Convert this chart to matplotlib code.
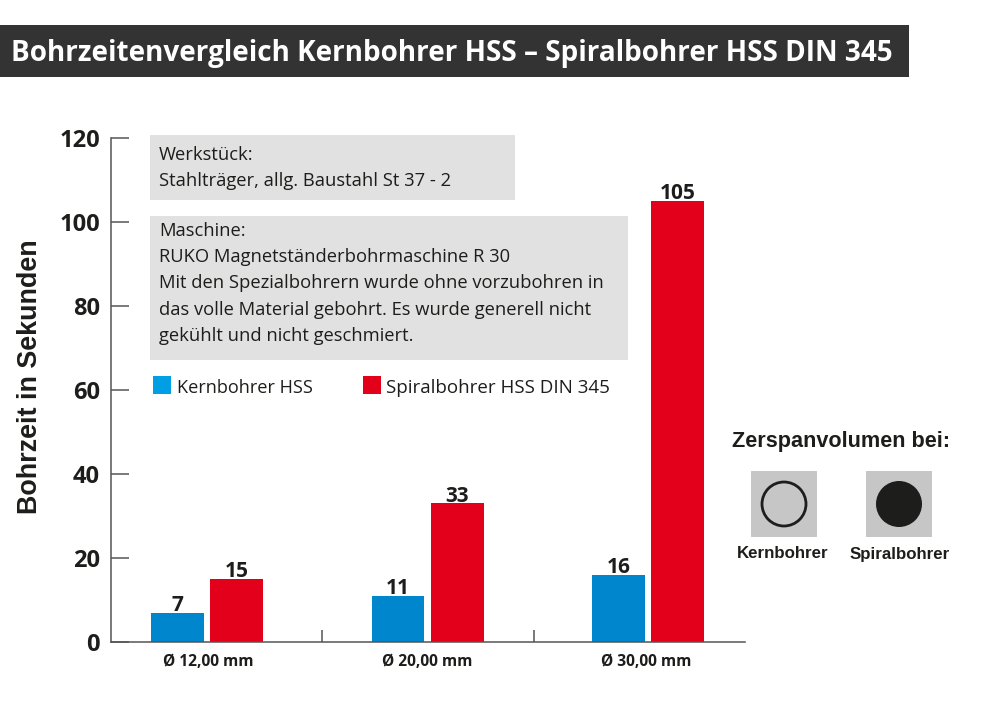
import matplotlib
matplotlib.use("Agg")
import matplotlib.pyplot as plt
from matplotlib.patches import Rectangle, Circle

categories = ["Ø 12,00 mm", "Ø 20,00 mm", "Ø 30,00 mm"]
kern_values = [7, 11, 16]
spiral_values = [15, 33, 105]
y_ticks = [0, 20, 40, 60, 80, 100, 120]

title = "Bohrzeitenvergleich Kernbohrer HSS – Spiralbohrer HSS DIN 345"
werkstueck = "Werkstück:\nStahlträger, allg. Baustahl St 37 - 2"
maschine = ("Maschine:\nRUKO Magnetständerbohrmaschine R 30\n"
            "Mit den Spezialbohrern wurde ohne vorzubohren in\n"
            "das volle Material gebohrt. Es wurde generell nicht\n"
            "gekühlt und nicht geschmiert.")

C_BLUE = "#0086cd"
C_BLUE_LEG = "#009fe3"
C_RED = "#e2001a"
C_DARK = "#1d1d1b"
C_AXIS = "#555555"
C_BOX = "#e1e1e1"
C_SQUARE = "#c6c6c6"
SANS = "Open Sans"
ARIAL = "Liberation Sans"

fig = plt.figure(figsize=(9.86, 7.08), dpi=100, facecolor="white")

# overlay in pixel coordinates for everything around the chart
bg = fig.add_axes([0, 0, 1, 1])
bg.set_xlim(0, 986)
bg.set_ylim(708, 0)
bg.axis("off")

bg.add_patch(Rectangle((0, 25), 909, 52, facecolor="#333333", edgecolor="none"))
bg.text(11, 53, title, color="white", fontsize=20.1, fontweight="bold",
        family=SANS, ha="left", va="center")

# info boxes
bg.add_patch(Rectangle((150, 135), 365, 65, facecolor=C_BOX, edgecolor="none"))
bg.add_patch(Rectangle((150, 216), 478, 144, facecolor=C_BOX, edgecolor="none"))
bg.text(159, 168, werkstueck, fontsize=13.2, family=SANS, color=C_DARK,
        ha="left", va="center", linespacing=1.58)
bg.text(159, 283.5, maschine, fontsize=13.2, family=SANS, color=C_DARK,
        ha="left", va="center", linespacing=1.58)

# legend
bg.add_patch(Rectangle((153, 376), 18, 18, facecolor=C_BLUE_LEG, edgecolor="none"))
bg.add_patch(Rectangle((363, 376), 18, 18, facecolor=C_RED, edgecolor="none"))
bg.text(177, 388, "Kernbohrer HSS", fontsize=13.1, family=SANS, color=C_DARK,
        ha="left", va="center")
bg.text(386, 388, "Spiralbohrer HSS DIN 345", fontsize=13.5, family=SANS, color=C_DARK,
        ha="left", va="center")

# Zerspanvolumen
bg.text(841.5, 442, "Zerspanvolumen bei:", fontsize=15.6, fontweight="bold", family=ARIAL,
        color=C_DARK, ha="center", va="center")
bg.add_patch(Rectangle((751, 471), 66, 66, facecolor=C_SQUARE, edgecolor="none"))
bg.add_patch(Rectangle((866, 471), 66, 66, facecolor=C_SQUARE, edgecolor="none"))
bg.add_patch(Circle((784, 504), 22, facecolor="none", edgecolor=C_DARK, linewidth=2))
bg.add_patch(Circle((899, 504), 23, facecolor=C_DARK, edgecolor="none"))
bg.text(783, 554, "Kernbohrer", fontsize=12.2, fontweight="bold", family=ARIAL,
        color=C_DARK, ha="center", va="center")
bg.text(900, 554, "Spiralbohrer", fontsize=12.2, fontweight="bold", family=ARIAL,
        color=C_DARK, ha="center", va="center")

bg.text(30, 377, "Bohrzeit in Sekunden", fontsize=19.4, fontweight="bold", family=ARIAL,
        color=C_DARK, rotation=90, ha="center", va="center")

# chart
ax = fig.add_axes([111 / 986, 66 / 708, 634 / 986, 504 / 708])
ax.patch.set_alpha(0)
ax.set_xlim(-0.5, 2.5)
ax.set_ylim(0, 120)

step = 1.043
width = 0.25
offset = 0.14
centers = [0.998 + (i - 1) * step for i in range(len(categories))]
label_centers = [0.996 + (i - 1) * 1.0375 for i in range(len(categories))]

kern_bars = ax.bar([c - offset for c in centers], kern_values, width, color=C_BLUE)
spiral_bars = ax.bar([c + offset for c in centers], spiral_values, width, color=C_RED)

for bars in (kern_bars, spiral_bars):
    for bar in bars:
        h = bar.get_height()
        ax.text(bar.get_x() + bar.get_width() / 2, h - 0.8, str(int(h)), fontsize=15,
                fontweight="bold", family=SANS, color=C_DARK, ha="center", va="bottom")

for c, label in zip(label_centers, categories):
    ax.annotate(label, xy=(c, 0), xytext=(0, -9), textcoords="offset points",
                fontsize=11.2, fontweight="bold", family=SANS, color=C_DARK,
                ha="center", va="top")

for side in ("top", "right"):
    ax.spines[side].set_visible(False)
for side in ("left", "bottom"):
    ax.spines[side].set_color(C_AXIS)
    ax.spines[side].set_linewidth(1.1)

ax.set_yticks(y_ticks)
ax.set_yticklabels([str(v) for v in y_ticks], fontsize=17, fontweight="bold",
                   family=SANS, color=C_DARK)
ax.tick_params(axis="y", direction="in", length=13, width=1.1, color=C_AXIS, pad=8)
ax.set_xticks([0.5, 1.5])
ax.set_xticklabels([])
ax.tick_params(axis="x", direction="in", length=9, width=1.1, color=C_AXIS)

fig.savefig("out.png", dpi=100, facecolor="white")
